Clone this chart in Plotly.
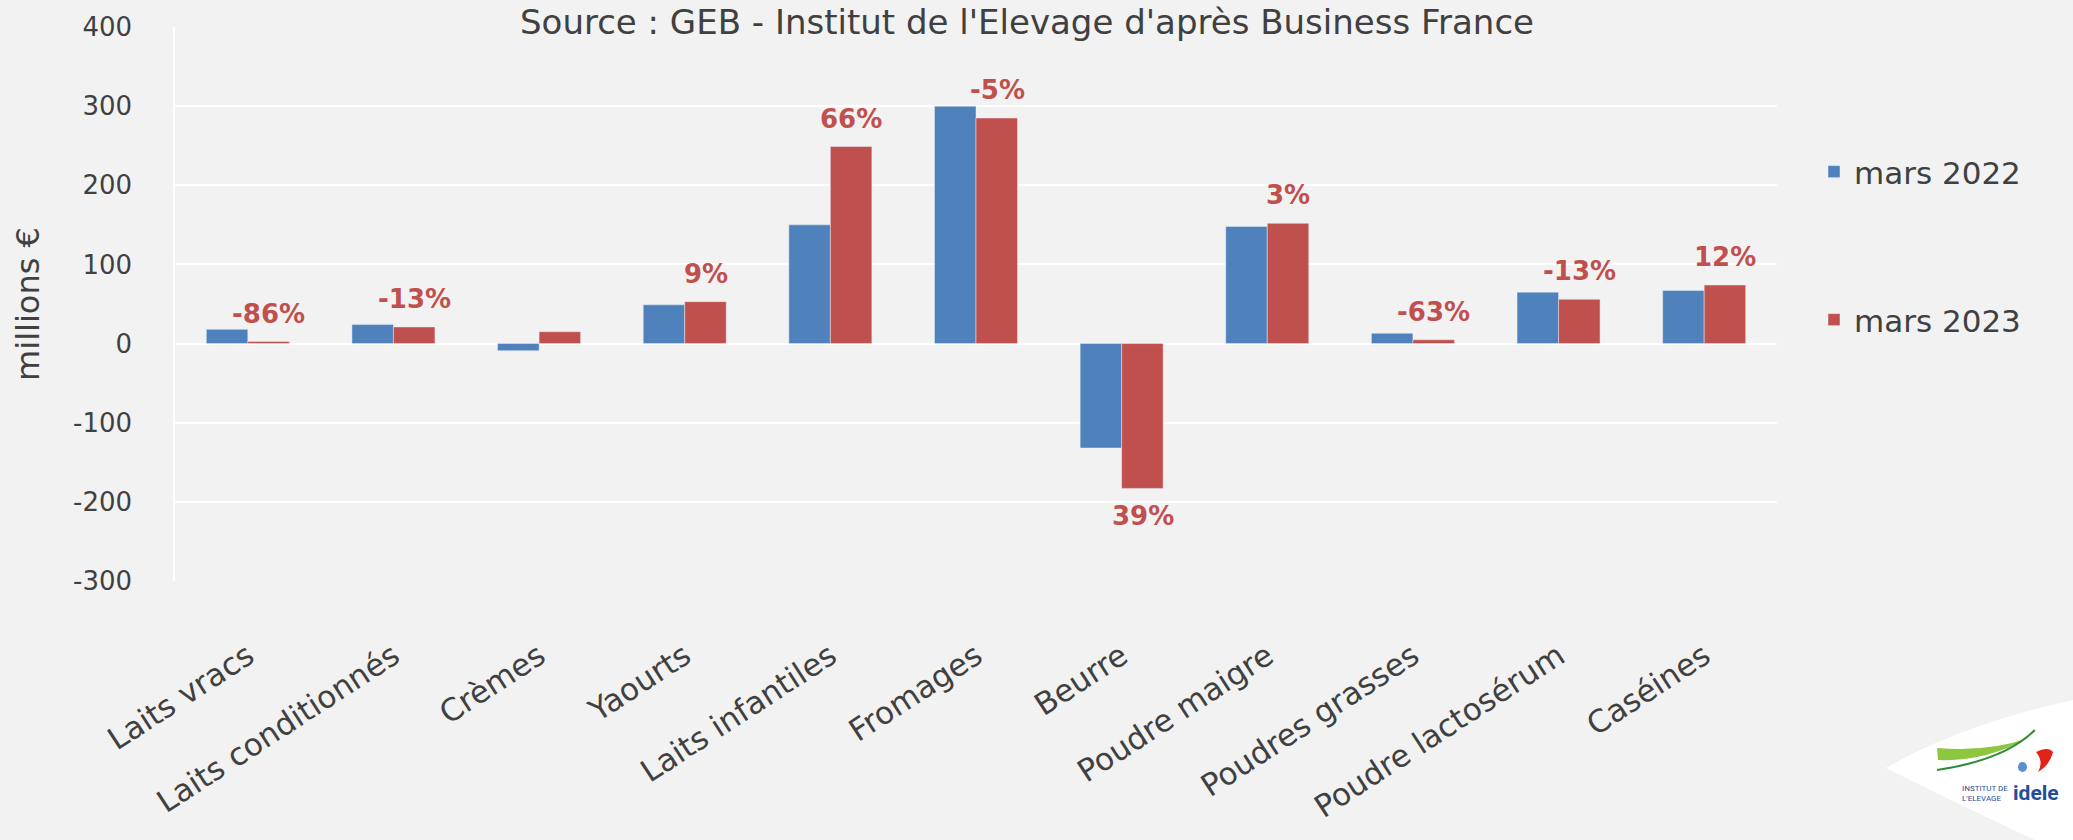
import plotly.graph_objects as go

categories = ["Laits vracs", "Laits conditionnés", "Crèmes", "Yaourts", "Laits infantiles",
              "Fromages", "Beurre", "Poudre maigre", "Poudres grasses", "Poudre lactosérum", "Caséines"]
mars_2022 = [18, 24, -9, 49, 150, 300, -132, 148, 13, 65, 67]
mars_2023 = [2.5, 21, 15, 53, 249, 285, -183, 152, 4.8, 56, 74]
variation_labels = ["-86%", "-13%", "", "9%", "66%", "-5%", "39%", "3%", "-63%", "-13%", "12%"]
y_ticks = [-300, -200, -100, 0, 100, 200, 300, 400]
y_ticktext = ["-300", "-200", "-100", "0", "100", "200", "300", "400"]

BLUE = "#4F81BD"
RED = "#C0504D"
TXT = "#404040"
BG = "#F2F2F2"
FONT = "DejaVu Sans"

W_FIG, H_FIG = 2073, 840
ML, MR, MT, MB = 175, 296, 27, 259
PW = W_FIG - ML - MR
PH = H_FIG - MT - MB


def px(x):
    return (x - ML) / PW


def py(y):
    return (H_FIG - MB - y) / PH


fig = go.Figure()
fig.add_trace(go.Bar(name="mars 2022", x=categories, y=mars_2022, marker_color=BLUE,
                     legend="legend"))
fig.add_trace(go.Bar(name="mars 2023", x=categories, y=mars_2023, marker_color=RED,
                     legend="legend2"))

annotations = []
for cat, v, lab in zip(categories, mars_2023, variation_labels):
    if not lab:
        continue
    annotations.append(dict(
        x=cat, y=v, xref="x", yref="y", text=lab, showarrow=False,
        xshift=21, yshift=11 if v >= 0 else -11,
        yanchor="bottom" if v >= 0 else "top",
        font=dict(family=FONT, size=26, color=RED, weight="bold")))

annotations.append(dict(
    x=px(1027), y=py(22), xref="paper", yref="paper",
    text="Source : GEB - Institut de l'Elevage d'après Business France",
    showarrow=False, xanchor="center", yanchor="middle",
    font=dict(family=FONT, size=34, color=TXT)))

# logo texts
annotations.append(dict(x=px(2011), y=py(793), xref="paper", yref="paper",
                        text="<b>idele</b>", showarrow=False, xanchor="left", yanchor="middle",
                        font=dict(family="Roboto", size=21, color="#1F4E9A")))
annotations.append(dict(x=px(2010), y=py(793), xref="paper", yref="paper",
                        text="INSTITUT DE<br>L'ELEVAGE", showarrow=False, xanchor="right",
                        yanchor="middle", align="left",
                        font=dict(family="Roboto", size=8, color="#1F4E9A")))

shapes = [
    dict(type="path", xref="paper", yref="paper",
         path=(f"M {px(1886):.4f} {py(768):.4f} "
               f"Q {px(1960):.4f} {py(725):.4f} {px(2073):.4f} {py(700):.4f} "
               f"L {px(2073):.4f} {py(840):.4f} L {px(2035):.4f} {py(840):.4f} "
               f"Q {px(1950):.4f} {py(800):.4f} {px(1886):.4f} {py(768):.4f} Z"),
         fillcolor="white", line=dict(width=0), layer="below"),
    dict(type="path", xref="paper", yref="paper",
         path=(f"M {px(1937):.4f} {py(748):.4f} "
               f"Q {px(1990):.4f} {py(752):.4f} {px(2028):.4f} {py(738):.4f} "
               f"Q {px(1985):.4f} {py(762):.4f} {px(1938):.4f} {py(760):.4f} Z"),
         fillcolor="#8DC63F", line=dict(width=0)),
    dict(type="path", xref="paper", yref="paper",
         path=(f"M {px(1937):.4f} {py(770):.4f} "
               f"Q {px(2005):.4f} {py(760):.4f} {px(2035):.4f} {py(730):.4f}"),
         line=dict(color="#2E8B3A", width=2)),
    dict(type="path", xref="paper", yref="paper",
         path=(f"M {px(2036):.4f} {py(752):.4f} "
               f"Q {px(2048):.4f} {py(746):.4f} {px(2053):.4f} {py(752):.4f} "
               f"Q {px(2050):.4f} {py(765):.4f} {px(2038):.4f} {py(772):.4f} "
               f"Q {px(2044):.4f} {py(762):.4f} {px(2036):.4f} {py(752):.4f} Z"),
         fillcolor="#E2231A", line=dict(width=0)),
    dict(type="circle", xref="paper", yref="paper",
         x0=px(2018), x1=px(2027), y0=py(772), y1=py(762),
         fillcolor="#5B8FD0", line=dict(width=0)),
]

fig.update_layout(
    width=W_FIG, height=H_FIG,
    paper_bgcolor=BG, plot_bgcolor=BG,
    margin=dict(l=ML, r=MR, t=MT, b=MB),
    barmode="group", bargap=0.43, bargroupgap=0,
    font=dict(family=FONT, color=TXT),
    showlegend=True,
    legend=dict(x=px(1814), y=py(172), xanchor="left", yanchor="middle",
                bgcolor="rgba(0,0,0,0)", font=dict(family=FONT, size=31, color=TXT)),
    legend2=dict(x=px(1814), y=py(320), xanchor="left", yanchor="middle",
                 bgcolor="rgba(0,0,0,0)", font=dict(family=FONT, size=31, color=TXT)),
    annotations=annotations,
    shapes=shapes,
)

fig.update_xaxes(
    type="category", tickangle=-33, showgrid=False, showline=False, automargin=False,
    tickfont=dict(family=FONT, size=31, color=TXT),
    ticklabelstandoff=50,
)
fig.update_yaxes(
    range=[-300, 400], tickvals=y_ticks, ticktext=y_ticktext, automargin=False,
    showgrid=True, gridcolor="#FFFFFF", gridwidth=1.5,
    zeroline=True, zerolinecolor="#FFFFFF", zerolinewidth=2,
    showline=True, linecolor="#FFFFFF", linewidth=1.5,
    tickfont=dict(family=FONT, size=26, color=TXT),
    ticklabelstandoff=36,
    title=dict(text="millions €", font=dict(family=FONT, size=32, color=TXT), standoff=24),
)

fig.write_html("out.html", config={"displayModeBar": False},
               post_script="document.body.style.margin='0';")
